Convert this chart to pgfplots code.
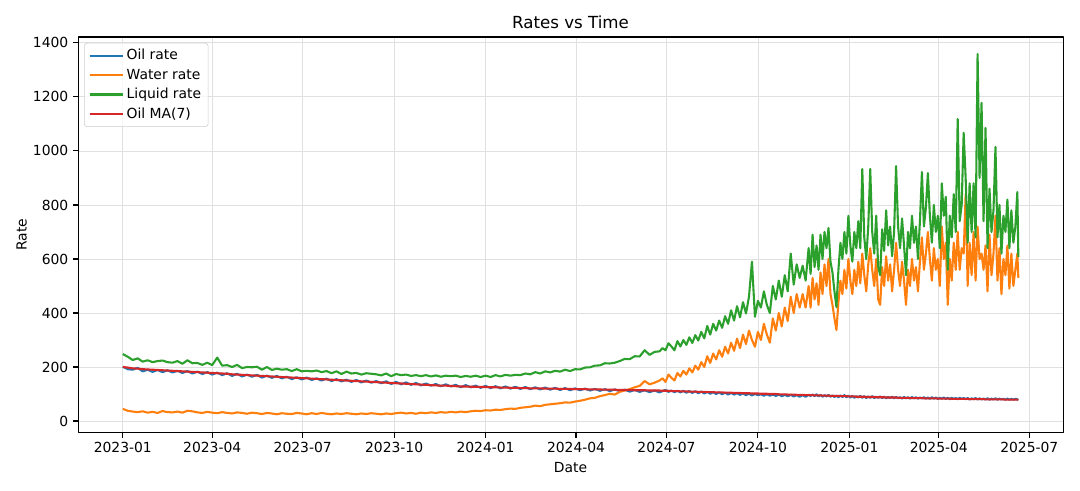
\documentclass[border=0pt]{standalone}
\usepackage{pgfplots}
\usepackage{pgfplotstable}
\usepackage{fontspec}
\setmainfont{DejaVu Sans}
\pgfplotsset{compat=1.18}
\definecolor{tabblue}{HTML}{1F77B4}
\definecolor{taborange}{HTML}{FF7F0E}
\definecolor{tabgreen}{HTML}{2CA02C}
\definecolor{tabred}{HTML}{D62728}
\pgfplotstableread{
d o w l m
0 201 45 248 200
5 192 38 238 198
10 190 35 226 195
15 197 33 232 194
20 184 36 220 192
25 190 31 225 191
30 182 34 218 190
35 189 30 222 189
40 181 37 224 188
45 188 33 218 187
50 180 32 216 186
55 186 35 222 185
60 178 31 212 184
65 185 38 225 183
70 176 36 214 182
75 183 32 215 181
80 174 30 208 180
85 181 34 216 179
90 172 31 207 178
95 179 29 235 177
100 170 33 205 176
105 177 30 207 175
110 167 28 200 173
115 175 32 208 172
120 165 30 196 171
125 172 27 200 170
130 164 31 199 169
135 171 29 201 168
140 161 26 190 167
145 168 30 200 166
150 160 28 189 165
155 167 25 194 164
160 158 29 190 163
165 164 27 192 162
170 155 26 185 161
175 162 30 192 160
180 154 28 184 159
185 161 25 186 158
190 152 29 184 157
195 158 26 187 156
200 150 30 181 155
205 157 27 185 154
210 148 25 177 153
215 155 28 184 152
220 147 26 174 151
225 153 29 183 150
230 145 27 176 149
235 152 25 178 148
240 143 28 172 147
245 150 26 177 146
250 142 29 175 145
255 148 27 173 144
260 140 25 169 143
265 147 28 176 142
270 137 26 166 141
275 145 29 174 140
280 136 31 170 139
285 143 28 172 138
290 134 30 167 137
295 141 27 170 136
300 132 31 166 135
305 139 29 170 134
310 131 32 165 133
315 137 30 169 132
320 129 33 164 131
325 136 31 168 131
330 128 34 166 130
335 134 32 168 129
340 125 35 163 128
345 133 33 167 128
350 125 36 164 127
355 131 38 168 127
360 123 37 163 126
365 130 40 168 126
370 122 39 163 125
375 129 42 170 125
380 121 41 165 124
385 128 44 171 124
390 120 46 168 123
395 127 45 171 123
400 119 49 170 122
405 126 51 176 122
410 118 53 173 121
415 125 57 181 121
420 117 55 176 121
425 124 60 184 120
430 116 62 180 120
435 123 64 186 120
440 115 66 183 119
445 122 69 190 119
450 114 68 185 119
455 121 72 192 118
460 114 75 191 118
465 120 79 198 118
470 113 84 199 117
475 119 86 205 117
480 112 92 206 117
485 118 96 214 116
490 111 101 213 116
495 117 98 216 116
500 110 108 222 115
505 116 113 230 115
510 109 118 229 115
515 115 125 240 114
520 108 130 239 114
525 114 148 262 114
530 107 136 245 113
535 113 142 256 113
540 106 150 258 113
543 111 158 270 112
546 115 145 262 112
549 108 172 288 112
552 113 160 276 111
555 107 150 262 111
558 112 178 296 111
561 106 165 276 110
564 112 186 300 110
567 105 172 282 110
570 111 195 310 109
573 104 180 289 109
576 110 205 318 109
579 103 190 298 108
582 109 218 330 108
585 102 200 306 108
588 108 240 352 107
591 101 215 320 107
594 107 250 360 107
597 100 228 335 106
600 106 262 372 106
603 99 238 345 106
606 105 275 388 105
609 98 250 360 105
612 104 290 410 105
615 98 260 372 104
618 103 305 425 104
621 97 270 384 104
624 102 320 440 103
627 96 285 398 103
630 101 335 460 103
633 95 300 590 102
636 100 275 386 102
639 96 330 445 102
642 99 300 420 101
645 94 360 480 101
648 99 320 430 101
651 94 290 400 100
654 98 380 500 100
657 93 335 450 100
660 98 400 520 99
663 92 350 460 99
666 97 420 540 99
669 92 370 480 98
672 97 460 620 98
675 91 400 505 98
678 96 470 580 97
681 90 420 530 97
684 96 470 575 97
687 90 420 520 96
690 97 500 640 96
692 93 420 545 96
694 98 530 690 96
696 92 450 570 95
698 99 510 650 95
700 91 430 560 95
702 97 550 690 95
704 90 470 600 94
706 96 580 700 94
708 91 500 640 94
710 97 600 715 94
712 90 470 590 93
714 95 430 550 93
716 89 380 480 93
718 94 337 422 93
720 88 440 560 93
722 95 520 660 92
724 89 470 600 92
726 96 560 700 92
728 88 490 620 92
730 94 600 760 91
732 87 520 650 91
734 93 470 590 91
736 86 560 700 91
738 92 500 640 90
740 87 590 740 90
742 93 510 640 90
744 86 620 933 90
746 92 540 680 90
748 85 480 600 89
750 91 580 720 89
752 86 640 933 89
754 92 560 700 89
756 85 500 620 89
758 90 600 760 88
760 86 450 570 88
762 91 430 540 88
764 85 570 710 88
766 90 500 630 88
768 84 610 780 87
770 89 520 650 87
772 85 580 720 87
774 90 480 610 87
776 84 560 700 87
778 89 660 944 87
780 85 560 720 86
782 88 500 640 86
784 83 590 750 86
786 89 520 650 86
788 84 430 540 86
790 88 560 700 86
792 83 500 640 85
794 89 600 760 85
796 84 520 660 85
798 88 570 720 85
800 83 480 600 85
802 87 590 740 85
804 84 680 922 85
806 88 560 720 84
808 83 620 790 84
810 87 700 918 84
812 82 600 760 84
814 88 520 660 84
816 83 640 800 84
818 87 560 700 84
820 82 600 760 83
822 86 500 640 83
824 83 720 880 83
826 87 600 760 83
828 82 660 830 83
830 86 430 560 83
832 81 600 760 83
834 86 520 680 82
836 82 660 840 82
838 85 560 700 82
840 81 700 1118 82
842 86 560 740 82
844 82 640 800 82
846 85 620 1067 82
848 81 840 900 82
850 85 500 660 82
852 80 660 880 81
854 84 540 700 81
856 81 700 880 81
858 85 520 680 81
860 80 720 1359 81
862 84 600 900 81
864 80 620 1178 81
866 83 560 740 81
868 80 650 1085 80
870 84 480 640 80
872 79 690 860 80
874 83 540 700 80
876 80 620 780 80
878 84 760 1015 80
880 79 520 680 80
882 83 640 800 80
884 80 470 620 80
886 82 600 760 80
888 79 540 700 79
890 83 650 820 79
892 79 490 640 79
894 82 620 780 79
896 79 500 660 79
898 82 560 720 79
900 80 620 848 79
901 78 530 607 79
}\rates
\begin{document}
\fontsize{10pt}{12pt}\selectfont
\begin{tikzpicture}
\path[use as bounding box] (-56.2pt,-41.8pt) rectangle (721.4pt,311.7pt);
\begin{axis}[
  at={(0pt,0pt)}, anchor=south west,
  scale only axis, width=709.2pt, height=285.1pt,
  xmin=-45, xmax=946, ymin=-44, ymax=1422,
  xtick={0,90,181,273,365,456,547,639,731,821,912},
  xticklabels={2023-01,2023-04,2023-07,2023-10,2024-01,2024-04,2024-07,2024-10,2025-01,2025-04,2025-07},
  ytick={0,200,400,600,800,1000,1200,1400},
  /pgf/number format/assume math mode=true,
  /pgf/number format/1000 sep={},
  tick label style={font=\fontsize{10pt}{12pt}\selectfont},
  label style={font=\fontsize{10pt}{12pt}\selectfont},
  ylabel style={yshift=-2.5pt},
  title style={font=\fontsize{12pt}{14pt}\selectfont, yshift=-3.5pt},
  title={Rates vs Time},
  xlabel={Date}, ylabel={Rate},
  tick pos=left, tick align=outside, major tick length=3.5pt,
  every tick/.style={black, line width=0.8pt},
  axis line style={line width=0.8pt},
  grid=major, major grid style={black!12, line width=0.6pt},
  legend style={at={(0,1)}, anchor=north west, xshift=4.3pt, yshift=-4.3pt,
    draw=black!20, rounded corners=2pt, fill=white, fill opacity=0.8, text opacity=1,
    font=\fontsize{10pt}{12pt}\selectfont, row sep=1pt, inner xsep=3pt, inner ysep=2.5pt},
  legend cell align=left,
  legend image code/.code={\draw[#1] (0pt,0pt) -- (20pt,0pt); \path (0pt,0pt) -- (24pt,0pt);},
  line join=round,
]
\addplot[tabblue, line width=1.5pt] table[x=d, y=o] {\rates};
\addlegendentry{Oil rate}
\addplot[taborange, line width=1.5pt] table[x=d, y=w] {\rates};
\addlegendentry{Water rate}
\addplot[tabgreen, line width=1.5pt] table[x=d, y=l] {\rates};
\addlegendentry{Liquid rate}
\addplot[tabred, line width=1.5pt] table[x=d, y=m] {\rates};
\addlegendentry{Oil MA(7)}
\end{axis}
\end{tikzpicture}
\end{document}
